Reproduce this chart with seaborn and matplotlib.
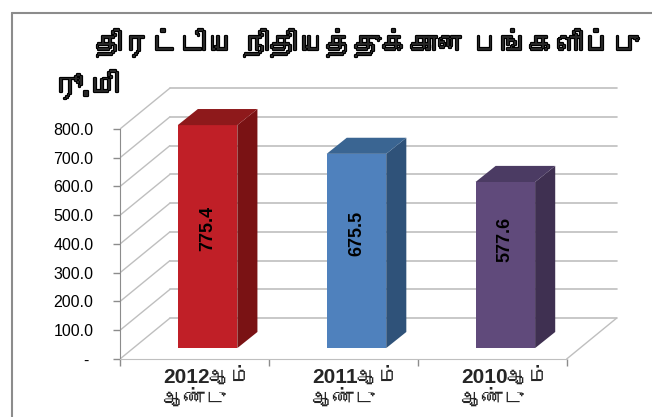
import matplotlib
matplotlib.use('Agg')
import matplotlib.pyplot as plt
import matplotlib.patheffects as pe
import seaborn as sns
import pandas as pd
from matplotlib import font_manager
from matplotlib.ft2font import FT2Font

# chart data
title = 'திரட்டிய நிதியத்துக்கான பங்களிப்பு'
unit_label = 'ரூ.மி'
years = ['2012', '2011', '2010']
year_suffix = 'ஆம்'
year_word = 'ஆண்டு'
values = [775.4, 675.5, 577.6]
y_ticks = [0, 100, 200, 300, 400, 500, 600, 700, 800]
y_tick_labels = ['- ', '100.0', '200.0', '300.0', '400.0', '500.0', '600.0', '700.0', '800.0']

front_colors = ['#C01F27', '#4F81BD', '#604A7B']
side_colors = ['#7A1214', '#2F5279', '#3F3051']
top_colors = ['#8E191B', '#3A6592', '#4B3B63']


def find_tamil_family():
    for f in font_manager.fontManager.ttflist:
        try:
            if ord('த') in FT2Font(f.fname).get_charmap():
                return f.name
        except Exception:
            pass
    return 'DejaVu Sans'


sns.set_style('white')
tamil_family = find_tamil_family()
plt.rcParams['font.family'] = ['Liberation Sans', tamil_family, 'DejaVu Sans']

# fake 3d geometry (category units / value units)
shift = 0.088          # bars sit this far behind the front edge
lift = 38
depth_x, depth_y = 0.335, 142      # floor / wall depth
bar_dx, bar_dy = 0.135, 56         # bar depth
grid_col = '#BFBFBF'
heavy = [pe.withStroke(linewidth=1.6, foreground='black')]

fig = plt.figure(figsize=(6.52, 4.17), dpi=100)
ax = fig.add_axes([120 / 652, 58 / 417, 497 / 652, 272 / 417])

df = pd.DataFrame({'year': years, 'value': values})
sns.barplot(data=df, x='year', y='value', hue='year', palette=front_colors,
            width=0.4, bottom=lift, errorbar=None, legend=False, saturation=1,
            linewidth=0, ax=ax, zorder=3)
bars = list(ax.patches)

x_left = -0.5 - shift
x_right = len(years) - 0.5 - shift

# walls and floor
for v in y_ticks:
    ax.plot([x_left, x_left + depth_x], [v, v + depth_y], color=grid_col, lw=1, zorder=1)
    ax.plot([x_left + depth_x, x_right + depth_x], [v + depth_y, v + depth_y],
            color=grid_col, lw=1.2, zorder=1, clip_on=False)
ax.plot([x_right, x_right + depth_x], [0, depth_y], color=grid_col, lw=1, zorder=1)

# bar side and top faces
for i, b in enumerate(bars):
    x0, x1 = b.get_x(), b.get_x() + b.get_width()
    y0, y1 = b.get_y(), b.get_y() + b.get_height()
    ax.fill([x1, x1 + bar_dx, x1 + bar_dx, x1], [y0, y0 + bar_dy, y1 + bar_dy, y1],
            color=side_colors[i], lw=0, zorder=3)
    ax.fill([x0, x1, x1 + bar_dx, x0 + bar_dx], [y1, y1, y1 + bar_dy, y1 + bar_dy],
            color=top_colors[i], lw=0, zorder=3)
    ax.text((x0 + x1) / 2, 300 + 0.2 * values[i], f'{values[i]:.1f}', rotation=90,
            ha='center', va='center', fontsize=13, fontweight='bold', color='black', zorder=5)

ax.set_xlim(x_left, x_right + depth_x + 0.003)
ax.set_ylim(0, 946)

ax.set_yticks(y_ticks, y_tick_labels)
ax.set_xticks([x_left + k for k in range(len(years) + 1)], [''] * (len(years) + 1))
ax.tick_params(axis='y', length=5, width=1, color='#8C8C8C', pad=14, labelsize=11.5,
               left=True, labelcolor='black')
ax.tick_params(axis='x', length=5, width=1, color='#8C8C8C', bottom=True)
ax.set_xlabel('')
ax.set_ylabel('')
for s in ['top', 'right']:
    ax.spines[s].set_visible(False)
ax.spines['left'].set_bounds(0, 800)
ax.spines['left'].set_color('#8C8C8C')
ax.spines['bottom'].set_bounds(x_left, x_right)
ax.spines['bottom'].set_color(grid_col)

for i, yr in enumerate(years):
    ax.annotate(f'{yr}{year_suffix}\n{year_word}', xy=(i - shift - 0.21, 0),
                xytext=(0, -6), textcoords='offset points', ha='left', va='top',
                fontsize=15, fontweight='bold', linespacing=1.15, annotation_clip=False)

# title, fitted to the width of the original heading
t = fig.text(95 / 652, 1 - 45 / 417, title, ha='left', va='center', fontsize=24,
             fontweight='bold', path_effects=heavy)
fig.canvas.draw()
w = t.get_window_extent().width
t.set_fontsize(24 * 545 / w)
fig.text(53 / 652, 1 - 87 / 417, unit_label, ha='left', va='center', fontsize=21,
         fontweight='bold', path_effects=heavy)

# outer frame
fig.add_artist(plt.Line2D([12 / 652, 1], [1 - 13 / 417, 1 - 13 / 417], color='#8C8C8C', lw=1.5))
fig.add_artist(plt.Line2D([12 / 652, 12 / 652], [0, 1 - 13 / 417], color='#8C8C8C', lw=1.5))

fig.savefig('out.png', dpi=100)
